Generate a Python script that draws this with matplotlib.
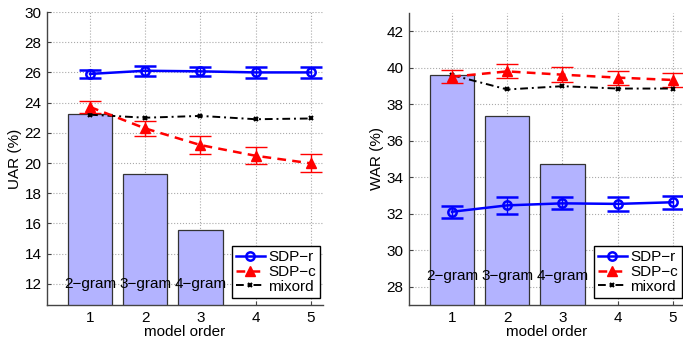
import numpy as np
import matplotlib
matplotlib.use('Agg')
import matplotlib.pyplot as plt
from matplotlib.lines import Line2D

plt.rcParams['font.family'] = ['Liberation Sans', 'DejaVu Sans']
plt.rcParams['font.size'] = 11

# model orders
orders = [1, 2, 3, 4, 5]
bar_x = [1, 2, 3]
bar_labels = ['2\u2212gram', '3\u2212gram', '4\u2212gram']

# UAR panel
uar_bars = [23.23, 19.3, 15.56]
uar_sdpr = [25.9, 26.11, 26.07, 26.0, 26.0]
uar_sdpr_err = [0.25, 0.32, 0.31, 0.35, 0.34]
uar_sdpc = [23.71, 22.29, 21.19, 20.48, 19.98]
uar_sdpc_err = [0.37, 0.52, 0.6, 0.57, 0.59]
uar_mix = [23.2, 23.0, 23.12, 22.9, 22.95]

# WAR panel
war_bars = [39.58, 37.38, 34.7]
war_sdpr = [32.11, 32.46, 32.57, 32.54, 32.63]
war_sdpr_err = [0.32, 0.46, 0.33, 0.37, 0.35]
war_sdpc = [39.51, 39.8, 39.62, 39.46, 39.33]
war_sdpc_err = [0.36, 0.38, 0.4, 0.38, 0.36]
war_mix = [39.6, 38.81, 38.99, 38.86, 38.86]

W, H = 683, 341
fig = plt.figure(figsize=(W / 100, H / 100), dpi=100)

blue_kw = dict(color='#0000ff', lw=1.8, ls='-', marker='o', ms=6, mfc='none', mew=1.8)
red_kw = dict(color='#ff0000', lw=1.8, ls=(0, (3.5, 2.5)), marker='^', ms=7.5)
mix_kw = dict(color='black', lw=1.4, ls=(0, (4, 2, 1, 2)), marker='x', ms=3, mew=1.5)


def panel(rect, bars, sdpr, sdpr_err, sdpc, sdpc_err, mix, ylim, yticks, ylab, txt_y):
    ax = fig.add_axes(rect)
    ax.bar(bar_x, bars, width=0.8, color='#b3b3ff', edgecolor='#333333', linewidth=0.9, zorder=2)
    for x, lab in zip(bar_x, bar_labels):
        ax.text(x, txt_y, lab, ha='center', va='center', fontsize=11, zorder=3)
    ax.errorbar(orders, sdpr, yerr=sdpr_err, capsize=8, elinewidth=1, capthick=1,
                zorder=5, **blue_kw)
    ax.errorbar(orders, sdpc, yerr=sdpc_err, capsize=8, elinewidth=1, capthick=1,
                zorder=4, **red_kw)
    ax.plot(orders, mix, zorder=4, **mix_kw)
    ax.set_xlim(0.22, 5.22)
    ax.set_ylim(*ylim)
    ax.set_xticks(orders)
    ax.set_yticks(yticks)
    ax.grid(True, ls=':', color='#aaaaaa', lw=0.8)
    ax.set_axisbelow(True)
    ax.spines['top'].set_visible(False)
    ax.spines['right'].set_visible(False)
    for s in ['left', 'bottom']:
        ax.spines[s].set_color('#444444')
        ax.spines[s].set_linewidth(1)
    ax.tick_params(direction='in', length=3, color='#444444', labelsize=11, pad=4)
    ax.set_xlabel('model order', labelpad=0)
    ax.set_ylabel(ylab, labelpad=2)
    handles = [Line2D([], [], **blue_kw), Line2D([], [], **red_kw), Line2D([], [], **mix_kw)]
    leg = ax.legend(handles, ['SDP\u2212r', 'SDP\u2212c', 'mixord'], loc='lower right',
                    bbox_to_anchor=(1.0, 0.015), fancybox=False,
                    edgecolor='black', framealpha=1, handlelength=1.9, handletextpad=0.25,
                    borderpad=0.25, labelspacing=0.05, borderaxespad=0.2)
    leg.get_frame().set_linewidth(1)
    return ax


panel([47 / W, 1 - 305 / H, 276 / W, 293 / H], uar_bars, uar_sdpr, uar_sdpr_err,
      uar_sdpc, uar_sdpc_err, uar_mix, (10.6, 30), range(12, 31, 2), 'UAR (%)', 12.0)
panel([409 / W, 1 - 305 / H, 276 / W, 292 / H], war_bars, war_sdpr, war_sdpr_err,
      war_sdpc, war_sdpc_err, war_mix, (27.0, 43.0), range(28, 43, 2), 'WAR (%)', 28.6)

fig.savefig('out.png', dpi=100)
